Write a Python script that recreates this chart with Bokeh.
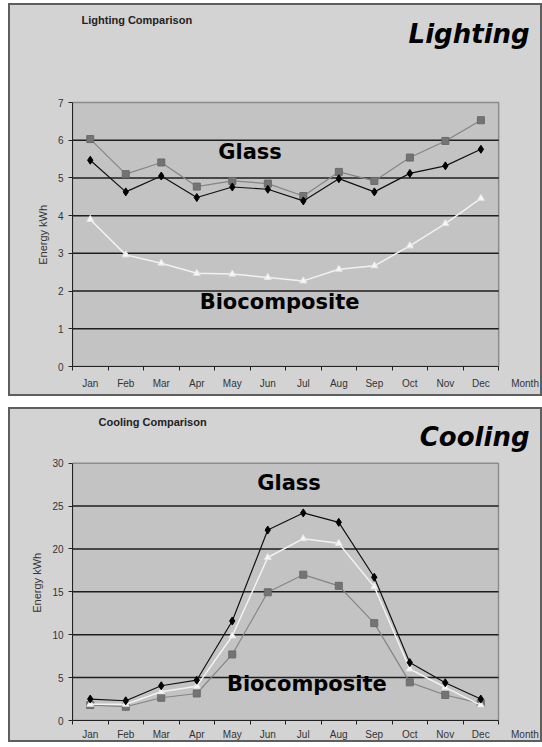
from bokeh.plotting import figure
from bokeh.models import FixedTicker, Label, Range1d
from bokeh.layouts import column
from bokeh.embed import file_html
from bokeh.resources import INLINE
import numpy as np

months = ["Jan", "Feb", "Mar", "Apr", "May", "Jun", "Jul", "Aug", "Sep", "Oct", "Nov", "Dec"]
x_title = "Month"
y_title = "Energy kWh"

# Lighting comparison (kWh)
light_diamond = [5.47, 4.63, 5.05, 4.48, 4.76, 4.70, 4.39, 4.98, 4.63, 5.12, 5.32, 5.76]
light_square = [6.03, 5.10, 5.41, 4.77, 4.92, 4.85, 4.52, 5.16, 4.92, 5.54, 5.98, 6.53]
light_triangle = [3.90, 2.96, 2.74, 2.47, 2.45, 2.36, 2.27, 2.58, 2.67, 3.20, 3.79, 4.46]
light_yticks = [0, 1, 2, 3, 4, 5, 6, 7]

# Cooling comparison (kWh)
cool_diamond = [2.5, 2.3, 4.05, 4.7, 11.6, 22.2, 24.2, 23.1, 16.7, 6.75, 4.4, 2.5]
cool_square = [1.8, 1.6, 2.65, 3.15, 7.7, 14.95, 17.0, 15.7, 11.35, 4.45, 2.97, 2.0]
cool_triangle = [1.9, 1.9, 3.35, 4.0, 9.85, 19.0, 21.2, 20.65, 15.6, 6.0, 3.86, 1.8]
cool_yticks = [0, 5, 10, 15, 20, 25, 30]

PANEL_BG = "#d3d3d3"
PLOT_BG = "#c3c3c3"
FONT = "Liberation Sans"
BIG = "DejaVu Sans"
NBSP = "\u00a0"


def make_panel(height, yticks, d, s, t, glass_xy, bio_xy, borders, area_px,
               small_title, big_title, small_off, big_off, ylab_pad, xlab_standoff):
    n = len(months)
    ymax = yticks[-1]
    width = 534
    # frame is larger than the plot area so that the titles fit inside it
    frame_w = width - borders[0] - borders[1]
    frame_h = height - borders[2] - borders[3]
    x_end = n * frame_w / area_px[0]
    y_end = ymax * frame_h / area_px[1]
    p = figure(width=width, height=height, output_backend="svg", toolbar_location=None,
               x_range=Range1d(0, x_end), y_range=Range1d(0, y_end),
               min_border_left=borders[0], min_border_right=borders[1],
               min_border_top=borders[2], min_border_bottom=borders[3],
               background_fill_color=None, border_fill_color=None,
               outline_line_color=None,
               styles={"outline": "2px solid #5e5e5e", "outline-offset": "-2px",
                       "background-color": PANEL_BG})
    x = np.arange(n) + 0.5

    # plot area
    p.quad(left=[0], right=[n], bottom=[0], top=[ymax], fill_color=PLOT_BG,
           line_color="#8c8c8c", line_width=1.5, level="image")

    p.xaxis.bounds = (0, n)
    p.xaxis.ticker = FixedTicker(ticks=list(x) + [n], minor_ticks=list(range(n + 1)))
    overrides = {v: m for v, m in zip(x, months)}
    overrides[n] = NBSP * 19 + x_title
    p.xaxis.major_label_overrides = overrides
    p.xaxis.major_tick_out = 0
    p.xaxis.major_tick_in = 0
    p.xaxis.minor_tick_out = 4
    p.xaxis.minor_tick_in = 0
    p.xaxis.minor_tick_line_color = "#222222"
    p.xaxis.major_label_standoff = xlab_standoff
    p.yaxis.bounds = (0, ymax)
    p.yaxis.ticker = FixedTicker(ticks=yticks)
    p.yaxis.minor_tick_line_color = None
    p.yaxis.major_tick_out = 4
    p.yaxis.major_tick_in = 0
    p.yaxis.major_label_standoff = 5
    p.yaxis.axis_label = y_title + NBSP * ylab_pad
    p.yaxis.axis_label_standoff = 6
    for ax in (p.xaxis[0], p.yaxis[0]):
        ax.axis_line_color = "#222222"
        ax.major_tick_line_color = "#222222"
        ax.major_label_text_font = FONT
        ax.major_label_text_font_size = "10px"
        ax.major_label_text_color = "#333333"
        ax.axis_label_text_font = FONT
        ax.axis_label_text_font_size = "11px"
        ax.axis_label_text_font_style = "normal"
        ax.axis_label_text_color = "#333333"

    p.xgrid.visible = False
    p.ygrid.visible = False
    inner = yticks[1:-1]
    p.segment(x0=[0] * len(inner), x1=[n] * len(inner), y0=inner, y1=inner,
              line_color="#1e1e1e", line_width=1.5, level="underlay")

    p.line(x, s, line_color="#858585", line_width=1.2)
    p.scatter(x, s, marker="square", size=7, fill_color="#747474", line_color="#6a6a6a")
    p.line(x, t, line_color="#f2f2f2", line_width=1.5)
    p.scatter(x, t, marker="triangle", size=7, fill_color="#f7f7f7", line_color="#e6e6e6")
    p.line(x, d, line_color="#111111", line_width=1.2)
    p.scatter(x, d, marker="diamond", size=8, fill_color="#000000", line_color="#000000")

    p.add_layout(Label(x=glass_xy[0], y=glass_xy[1], text="Glass", text_font=BIG,
                       text_font_size="21px", text_font_style="bold", text_align="center",
                       text_baseline="middle", text_color="#000000"))
    p.add_layout(Label(x=bio_xy[0], y=bio_xy[1], text="Biocomposite", text_font=BIG,
                       text_font_size="21px", text_font_style="bold", text_align="center",
                       text_baseline="middle", text_color="#000000"))
    p.add_layout(Label(x=0, y=ymax, x_offset=small_off[0], y_offset=small_off[1],
                       text=small_title, text_font=FONT, text_font_size="11px",
                       text_font_style="bold", text_align="left", text_baseline="middle",
                       text_color="#222222"))
    p.add_layout(Label(x=n, y=ymax, x_offset=big_off[0], y_offset=big_off[1],
                       text=big_title, text_font=BIG, text_font_size="26px",
                       text_font_style="bold italic", text_align="right",
                       text_baseline="middle", text_color="#000000"))
    return p


p1 = make_panel(393, light_yticks, light_diamond, light_square, light_triangle,
                (5.0, 5.68), (5.83, 1.7), (62, 7, 5, 30), (428, 264),
                "Lighting Comparison", "Lighting", (9, 83), (31, 69), 31, 7)
p2 = make_panel(335, cool_yticks, cool_diamond, cool_square, cool_triangle,
                (6.1, 27.7), (6.6, 4.2), (64, 7, 4, 20), (426, 259),
                "Cooling Comparison", "Cooling", (26, 41), (31, 26), 11, 4)

layout = column(p1, p2, spacing=11, styles={"margin-left": "8px", "margin-top": "3px"})
open("out.html", "w").write(file_html(layout, INLINE))
